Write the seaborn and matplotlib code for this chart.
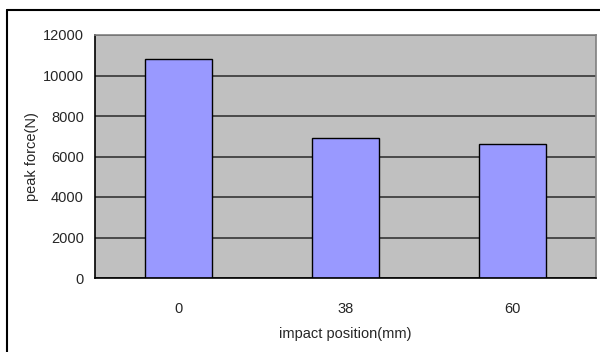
import matplotlib
matplotlib.use('Agg')
import matplotlib.pyplot as plt
from matplotlib.lines import Line2D
import pandas as pd
import seaborn as sns

positions = ['0', '38', '60']
peak_force = [10800, 6900, 6600]
y_ticks = [0, 2000, 4000, 6000, 8000, 10000, 12000]

df = pd.DataFrame({'position': positions, 'force': peak_force})

sns.set_style('white')
plt.rcParams['font.family'] = ['Liberation Sans', 'DejaVu Sans']

fig = plt.figure(figsize=(6, 3.52), dpi=100)
ax = fig.add_axes([95 / 600, 1 - 278 / 352, 501 / 600, 243 / 352])
ax.set_facecolor('#C0C0C0')

sns.barplot(data=df, x='position', y='force', order=positions, width=0.4,
            color='#9999FF', edgecolor='black', linewidth=1, saturation=1, ax=ax)

ax.set_ylim(0, 12000)
ax.set_xlim(-0.5, 2.5)
ax.set_yticks(y_ticks)
ax.set_yticklabels([str(v) for v in y_ticks], fontsize=10.5)
ax.yaxis.grid(True, color='#404040', linewidth=1.3)
ax.set_axisbelow(True)

ax.set_xticks([0, 1, 2])
ax.set_xticklabels(positions, fontsize=10.5)
ax.set_xticks([0.5, 1.5], minor=True)
ax.tick_params(axis='x', which='major', length=0, pad=17)
ax.tick_params(axis='x', which='minor', direction='in', length=4, width=1, color='black')
ax.tick_params(axis='y', length=0, pad=8)

ax.set_xlabel('impact position(mm)', fontsize=10.5, labelpad=8)
ax.set_ylabel('peak force(N)', fontsize=10.5, labelpad=3)

ax.spines['left'].set_color('black')
ax.spines['bottom'].set_color('black')
ax.spines['top'].set_color('#808080')
ax.spines['right'].set_color('#808080')
for s in ax.spines.values():
    s.set_linewidth(1.2)

# outer chart frame
fig.add_artist(Line2D([7 / 600, 7 / 600], [0, 1 - 10 / 352], color='black', linewidth=1.5))
fig.add_artist(Line2D([7 / 600, 1], [1 - 10 / 352, 1 - 10 / 352], color='black', linewidth=1.5))

fig.savefig('out.png', dpi=100)
